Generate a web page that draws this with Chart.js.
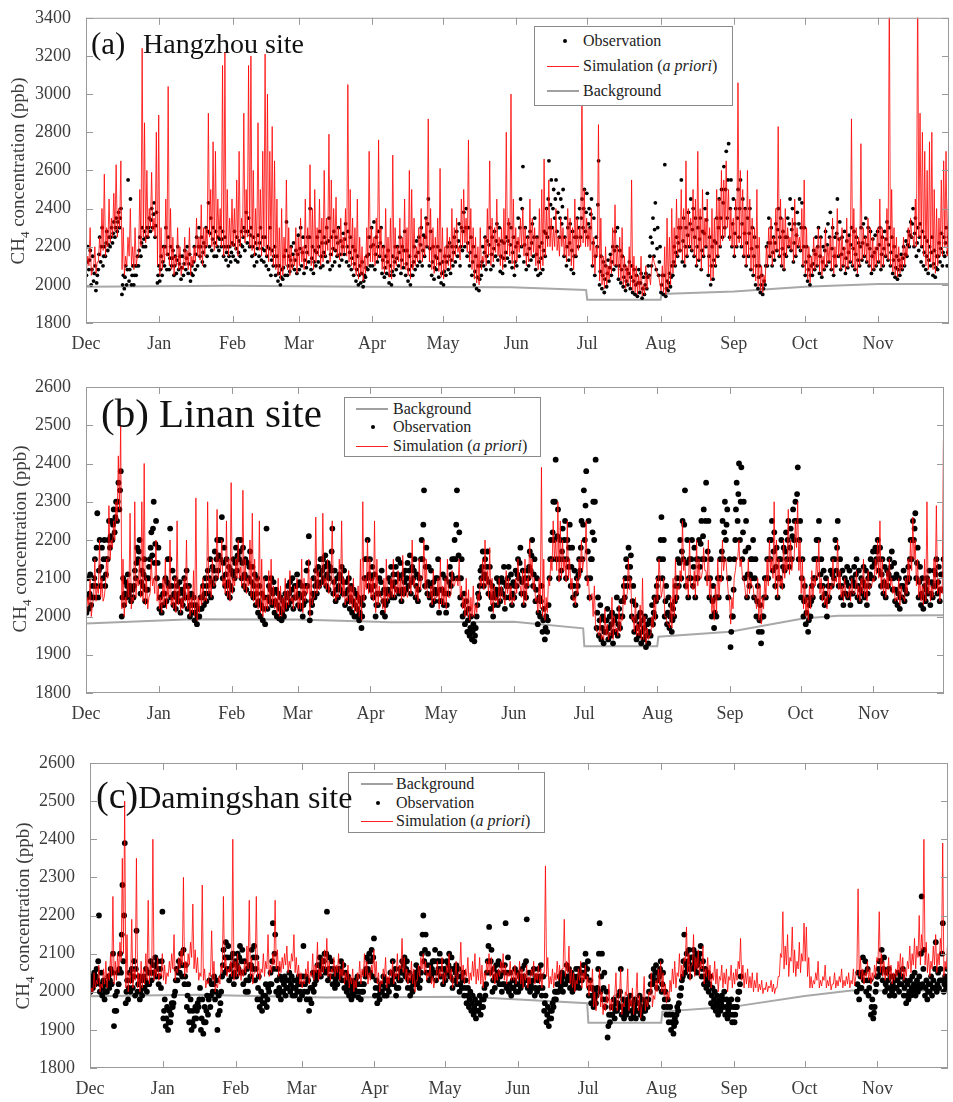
<!DOCTYPE html>
<html>
<head>
<meta charset="utf-8">
<script src="https://cdn.jsdelivr.net/npm/chart.js@4.4.1/dist/chart.umd.min.js"></script>
<style>
  body { margin: 0; background: #fff; width: 953px; height: 1102px; position: relative; overflow: hidden;
         font-family: 'Liberation Serif', 'Times New Roman', serif; }
  canvas { position: absolute; left: 0; }
  .ylab { position: absolute; transform: translate(-50%, -50%) rotate(-90deg); white-space: nowrap;
          font-size: 19px; color: #3c3c3c; }
  .ylab sub { font-size: 13px; }
  .tag { position: absolute; white-space: nowrap; color: #111; line-height: 1; z-index: 2; }
  .legend { position: absolute; border: 1px solid #8a8a8a; background: #fff; color: #222; z-index: 1; }
  .legend .row { position: absolute; left: 0; right: 0; height: 0; }
  .legend .txt { position: absolute; transform: translateY(-52%); white-space: nowrap; }
  .legend .ln { position: absolute; height: 0; }
  .legend .dot { position: absolute; width: 4px; height: 4px; border-radius: 50%; background: #000; transform: translate(-50%, -50%); }
</style>
</head>
<body>
<canvas id="chartHangzhou" width="953" height="365" style="top:0"></canvas>
<canvas id="chartLinan" width="953" height="385" style="top:350px"></canvas>
<canvas id="chartDamingshan" width="953" height="372" style="top:730px"></canvas>

<div class="ylab" style="left:20px;top:171px">CH<sub>4</sub> concentration (ppb)</div>
<div class="ylab" style="left:22px;top:539px">CH<sub>4</sub> concentration (ppb)</div>
<div class="ylab" style="left:25px;top:916px">CH<sub>4</sub> concentration (ppb)</div>

<div class="tag" style="left:91px;top:28px;font-size:31px">(a)</div>
<div class="tag" style="left:143px;top:30px;font-size:28px">Hangzhou site</div>
<div class="tag" style="left:101px;top:393px;font-size:41px">(b) Linan site</div>
<div class="tag" style="left:96px;top:776px;font-size:32px"><span style="font-size:38px">(c)</span>Damingshan site</div>

<div id="legHangzhou" class="legend" style="left:534px;top:26px;width:197px;height:78px;font-size:16px"></div>
<div id="legLinan" class="legend" style="left:344px;top:397px;width:195px;height:58px;font-size:16px"></div>
<div id="legDamingshan" class="legend" style="left:348px;top:772px;width:195px;height:59px;font-size:16px"></div>

<script>
// x axis: day index counted from 1 Dec
const monthStarts = [0, 31, 62, 90, 121, 151, 182, 212, 243, 274, 304, 335];
const monthLabels = ['Dec', 'Jan', 'Feb', 'Mar', 'Apr', 'May', 'Jun', 'Jul', 'Aug', 'Sep', 'Oct', 'Nov'];

// ---------- (a) Hangzhou ----------
// simulation: daily low and daily peak
const hzSimLow = [
  2080,2100,2050,2100,2060,2120,2150,2180,2150,2200,2220,2250,2280,2250,2300,2080,2050,2100,2150,2100,2080,2100,2150,2200,2250,2220,2250,2300,2280,2250,2100,
  2050,2080,2120,2150,2100,2080,2050,2100,2080,2050,2080,2100,2080,2050,2100,2120,2150,2130,2100,2150,2200,2250,2200,2180,2200,2250,2200,2150,2180,2150,2200,
  2200,2180,2150,2200,2250,2220,2250,2200,2180,2150,2200,2180,2150,2200,2150,2120,2150,2100,2080,2050,2030,2050,2100,2080,2050,2080,2100,2060,
  2100,2120,2080,2100,2150,2100,2080,2120,2150,2100,2120,2150,2180,2120,2150,2180,2150,2130,2150,2170,2150,2120,2100,2080,2050,2030,2050,2020,2060,2100,2120,
  2120,2100,2130,2150,2080,2060,2080,2040,2030,2080,2100,2120,2080,2100,2080,2050,2030,2080,2100,2120,2130,2120,2150,2200,2120,2080,2060,2100,2070,2040,
  2030,2080,2100,2080,2120,2150,2170,2130,2200,2220,2170,2120,2080,2030,2010,2000,2080,2120,2100,2150,2100,2120,2170,2150,2100,2080,2120,2160,2150,2110,2080,
  2120,2170,2200,2150,2100,2120,2150,2170,2100,2080,2080,2100,2150,2200,2200,2180,2200,2180,2150,2200,2150,2120,2150,2100,2080,2150,2180,2200,2220,2200,
  2200,2180,2100,2060,2150,2020,2000,1980,2000,2030,2060,2100,2100,2040,2020,2000,1980,2010,1990,1970,1960,1950,1970,1940,1950,1980,2050,2100,2120,2080,2050,
  1970,1960,1950,1980,2000,2060,2100,2150,2170,2130,2110,2150,2200,2180,2150,2100,2130,2080,2150,2200,2060,2020,2040,2100,2150,2200,2230,2250,2300,2230,2200,
  2150,2200,2220,2200,2150,2100,2150,2080,2060,2020,1990,1970,1960,2010,2100,2150,2100,2140,2180,2150,2100,2080,2150,2200,2180,2120,2150,2200,2180,2100,
  2060,2030,2010,2060,2080,2100,2070,2050,2080,2100,2120,2080,2060,2100,2150,2080,2100,2070,2090,2120,2100,2080,2060,2100,2130,2150,2120,2100,2070,2080,2100,
  2120,2090,2100,2150,2130,2100,2070,2050,2040,2060,2080,2100,2150,2200,2250,2200,2200,2250,2200,2150,2100,2080,2120,2080,2060,2100,2150,2150,2200,2150
];
const hzSimHigh = [
  2150,2300,2080,2200,2120,2250,2400,2580,2300,2450,2350,2480,2630,2400,2650,2300,2150,2250,2400,2200,2300,2150,2500,3240,2850,2600,2400,2590,2350,2800,2890,
  2300,2200,2450,3040,2400,2250,2150,2300,2200,2100,2250,2180,2300,2150,2200,2350,2250,2420,2300,2300,2900,2500,2750,2700,2450,2400,3150,3220,2500,2350,2450,
  2400,2550,2700,2350,2900,2500,3150,3200,2600,2400,2850,2500,2700,3210,3000,2700,2830,2650,2450,2300,2400,2250,2550,2300,2200,2150,2300,2250,
  2350,2200,2450,2300,2630,2400,2500,2300,2450,2350,2600,2350,2790,2550,2400,2460,2300,2350,2250,2400,3050,2500,2350,2300,2450,2250,2200,2150,2300,2700,2300,
  2250,2350,2760,2300,2200,2400,2250,2350,2680,2300,2200,2350,2250,2450,2300,2600,2500,2350,2200,2300,2400,2250,2350,2870,2400,2300,2250,2350,2610,2300,
  2200,2300,2250,2400,2300,2350,2200,2450,2500,2350,2760,2400,2300,2250,2200,2300,2150,2250,2400,2650,2350,2300,2450,2250,2300,2400,2800,2350,3000,2450,2300,
  2250,2350,2400,2300,2250,2450,2350,2300,2250,2400,2500,2660,2400,2550,2350,2300,2400,2250,2350,2300,2250,2400,2350,2300,2450,2350,2300,3060,2500,2350,
  2300,2400,2250,2200,2840,2350,2150,2200,2100,2150,2300,2420,2200,2250,2300,2150,2100,2200,2550,2150,2100,2050,2150,2000,2100,2050,2000,2150,2100,2050,2000,
  2100,2200,2350,2250,2400,2300,2450,2350,2500,2400,2650,2400,2350,2500,2450,2700,2400,2500,2350,2450,2300,2400,2350,2500,2450,2600,2550,2650,2500,2400,2350,
  2450,3060,2600,2500,2400,2600,2450,2350,2300,2500,2250,2100,2050,2200,2300,2350,2250,2400,2830,2450,2350,2400,2300,2250,2350,2450,2300,2250,2400,2550,
  2300,2200,2150,2250,2200,2300,2250,2150,2300,2200,2250,2350,2200,2400,2250,2300,2200,2350,2250,2870,2400,2300,2250,2740,2300,2250,2350,2300,2250,2200,2300,
  2450,2300,2250,2400,3600,2500,2300,2250,2200,2150,2250,2200,2300,2350,2250,2450,3600,2900,2800,2700,2600,2750,2800,2500,2400,2350,2550,2650,2700,2450
];
// observations: three samples per day (low, middle, high)
const hzObsLow = [
  2050,2080,2000,2020,1970,2080,2120,2100,2150,2180,2200,2220,2250,2280,2300,1950,1980,2000,2020,2000,2000,2050,2100,2150,2200,2200,2250,2280,2300,2250,2010,
  2020,2050,2100,2080,2080,2100,2050,2060,2080,2030,2050,2080,2060,2020,2050,2080,2100,2150,2120,2100,2150,2200,2180,2150,2150,2180,2200,2150,2130,2100,2120,
  2150,2130,2120,2150,2200,2180,2220,2200,2150,2100,2120,2150,2130,2120,2100,2080,2050,2100,2050,2020,2000,2030,2050,2050,2070,2100,2080,2060,
  2080,2100,2060,2090,2120,2080,2060,2100,2120,2090,2100,2150,2120,2080,2100,2120,2150,2100,2130,2160,2120,2100,2080,2050,2020,2000,2010,1990,2040,2080,2100,
  2100,2080,2120,2150,2060,2040,2060,2010,2000,2050,2080,2100,2060,2090,2050,2020,2000,2050,2080,2100,2120,2100,2150,2200,2100,2050,2030,2080,2040,2010,
  2000,2050,2080,2060,2100,2120,2150,2100,2180,2200,2150,2100,2050,2000,1980,1970,2050,2100,2080,2120,2080,2100,2150,2130,2070,2060,2100,2140,2120,2090,2050,
  2100,2150,2200,2120,2080,2100,2130,2150,2080,2050,2060,2080,2150,2250,2300,2300,2350,2280,2250,2320,2150,2100,2130,2080,2060,2150,2200,2250,2300,2280,
  2250,2300,2100,2050,2200,2000,1980,1960,1990,2020,2050,2080,2100,2030,2010,1990,1970,2000,1980,1960,1950,1940,1960,1930,1950,1980,2050,2100,2150,2080,2050,
  1960,1950,1940,1970,1990,2050,2100,2150,2180,2120,2100,2150,2200,2180,2150,2100,2130,2080,2150,2200,2050,2000,2030,2100,2150,2200,2250,2300,2350,2250,2200,
  2150,2200,2250,2200,2150,2100,2150,2080,2050,2000,1980,1960,1950,2000,2100,2150,2100,2130,2180,2150,2100,2080,2150,2200,2180,2120,2150,2200,2180,2100,
  2050,2020,2000,2050,2080,2100,2060,2040,2080,2100,2120,2080,2050,2100,2150,2080,2100,2060,2090,2120,2100,2080,2050,2100,2130,2150,2120,2100,2060,2080,2100,
  2120,2080,2100,2150,2130,2100,2060,2040,2030,2050,2080,2100,2150,2200,2250,2200,2150,2180,2120,2100,2080,2060,2100,2050,2040,2080,2120,2100,2150,2100
];
const hzObsMid = [
  2120,2130,2080,2060,2010,2160,2200,2150,2220,2210,2250,2270,2300,2330,2350,2000,2040,2080,2080,2050,2050,2100,2180,2220,2240,2250,2300,2340,2370,2310,2050,
  2080,2120,2200,2160,2140,2140,2100,2130,2110,2090,2110,2140,2110,2060,2120,2160,2200,2200,2170,2200,2280,2270,2240,2220,2200,2240,2240,2200,2170,2150,2170,
  2210,2190,2170,2210,2250,2280,2280,2260,2200,2160,2190,2220,2190,2180,2150,2190,2130,2150,2100,2060,2040,2090,2180,2100,2130,2160,2130,2160,
  2190,2170,2130,2170,2250,2140,2120,2170,2200,2150,2170,2220,2230,2160,2190,2180,2220,2160,2200,2240,2200,2170,2140,2110,2080,2050,2060,2020,2090,2160,2200,
  2210,2160,2200,2220,2130,2090,2120,2050,2070,2120,2140,2170,2130,2180,2110,2080,2050,2120,2150,2170,2210,2180,2250,2320,2190,2120,2090,2140,2110,2060,
  2070,2120,2150,2130,2170,2200,2230,2200,2280,2300,2220,2170,2120,2070,2040,2030,2120,2170,2150,2210,2160,2190,2230,2210,2150,2140,2170,2230,2210,2170,2120,
  2220,2300,2400,2210,2160,2190,2220,2250,2160,2120,2140,2180,2270,2450,2420,2400,2450,2380,2350,2410,2250,2200,2220,2180,2150,2250,2300,2350,2400,2380,
  2320,2370,2220,2150,2420,2070,2050,2030,2060,2090,2120,2180,2200,2100,2080,2040,2020,2060,2040,2020,2000,2010,2010,1980,2000,2040,2150,2220,2290,2190,2120,
  2000,2050,1980,2010,2040,2120,2170,2220,2300,2230,2200,2260,2320,2290,2250,2200,2240,2180,2270,2340,2150,2100,2130,2220,2300,2350,2430,2500,2550,2400,2320,
  2270,2350,2400,2320,2270,2220,2270,2190,2150,2100,2040,2000,1980,2100,2220,2220,2170,2220,2290,2250,2190,2160,2250,2320,2290,2220,2260,2320,2300,2200,
  2120,2080,2050,2110,2160,2200,2150,2120,2180,2210,2250,2190,2150,2270,2240,2160,2190,2140,2170,2210,2190,2160,2130,2200,2220,2250,2210,2190,2150,2170,2190,
  2210,2160,2190,2240,2210,2170,2130,2090,2080,2100,2140,2160,2210,2260,2320,2270,2220,2250,2200,2170,2150,2130,2170,2110,2090,2150,2190,2170,2220,2170
];
const hzObsHigh = [
  2200,2180,2150,2100,2050,2250,2300,2200,2280,2250,2300,2330,2350,2380,2400,2050,2100,2550,2450,2100,2100,2150,2250,2300,2280,2300,2350,2400,2430,2380,2100,
  2150,2200,2300,2250,2200,2180,2150,2200,2150,2150,2180,2200,2160,2100,2200,2250,2300,2250,2220,2300,2430,2350,2300,2280,2250,2300,2280,2250,2200,2200,2220,
  2280,2250,2230,2280,2300,2380,2350,2300,2250,2220,2260,2300,2250,2250,2200,2300,2180,2200,2150,2100,2080,2150,2330,2150,2200,2220,2180,2260,
  2300,2250,2200,2250,2400,2200,2180,2250,2280,2220,2250,2300,2350,2250,2280,2250,2300,2230,2270,2320,2280,2250,2200,2180,2150,2100,2120,2050,2150,2250,2300,
  2330,2250,2280,2300,2200,2150,2180,2100,2150,2200,2200,2250,2200,2280,2180,2150,2100,2200,2230,2250,2300,2260,2350,2450,2280,2200,2150,2200,2180,2120,
  2150,2200,2220,2200,2250,2280,2320,2300,2380,2400,2300,2250,2200,2150,2100,2100,2200,2250,2230,2300,2250,2280,2320,2300,2230,2220,2250,2320,2300,2250,2200,
  2350,2450,2620,2300,2250,2280,2320,2350,2250,2200,2220,2280,2400,2650,2550,2500,2550,2480,2450,2500,2350,2300,2320,2280,2250,2350,2400,2450,2500,2480,
  2400,2450,2350,2250,2650,2150,2120,2100,2130,2160,2200,2280,2300,2180,2150,2100,2080,2120,2100,2080,2050,2080,2060,2040,2060,2100,2250,2350,2430,2300,2200,
  2050,2630,2020,2060,2100,2200,2250,2300,2550,2350,2300,2380,2450,2400,2350,2300,2350,2280,2400,2480,2250,2200,2230,2350,2450,2500,2620,2700,2740,2550,2450,
  2400,2500,2550,2450,2400,2350,2400,2300,2250,2200,2100,2050,2020,2200,2350,2300,2250,2320,2400,2350,2280,2250,2350,2450,2400,2320,2380,2450,2430,2300,
  2200,2150,2100,2180,2250,2300,2250,2200,2280,2320,2380,2300,2250,2450,2330,2250,2280,2230,2260,2300,2280,2250,2220,2300,2320,2350,2300,2280,2240,2260,2280,
  2300,2250,2280,2330,2300,2250,2200,2150,2130,2160,2200,2230,2280,2330,2400,2350,2300,2320,2280,2250,2230,2200,2250,2180,2150,2220,2270,2250,2300,2250
];
const hzBgDays = [0, 60, 120, 180, 211.5, 212, 243, 243.5, 274, 304, 335, 365];
const hzBg = [1990, 1995, 1990, 1987, 1973, 1922, 1922, 1952, 1965, 1990, 2004, 2004];
const hzTicks = [1800, 2000, 2200, 2400, 2600, 2800, 3000, 3200, 3400];

// ---------- (b) Linan ----------
const laSimLow = [
  2010,2030,2000,2050,2040,2060,2050,2040,2080,2100,2150,2180,2200,2250,2280,2020,2000,2030,2050,2020,2040,2050,2080,2050,2040,2030,2020,2060,2080,2060,2040,
  2020,2010,2030,2020,2050,2030,2020,2010,2030,2010,2020,2040,2020,2000,2010,2000,1990,2010,2030,2040,2040,2060,2050,2080,2090,2100,2120,2080,2060,2050,2040,
  2060,2080,2100,2100,2080,2070,2060,2080,2050,2040,2030,2020,2010,2000,2010,2020,2030,2030,2020,2010,2000,2000,2010,2020,2030,2040,2020,2040,
  2020,2020,2010,2040,2060,2000,2030,2050,2060,2070,2080,2080,2070,2060,2090,2050,2040,2050,2060,2050,2030,2040,2030,2020,2010,2010,2000,1990,2040,2070,2060,
  2050,2040,2010,2030,2050,2020,2010,2040,2050,2050,2050,2060,2060,2040,2050,2060,2070,2060,2080,2050,2040,2070,2100,2070,2050,2050,2030,2040,2050,2020,
  2030,2030,2020,2050,2060,2080,2100,2080,2050,2020,2000,2000,1990,2000,2000,2010,2040,2080,2070,2080,2050,2030,2010,2040,2030,2040,2050,2030,2060,2040,2030,
  2040,2060,2080,2050,2030,2040,2080,2100,2070,2040,2010,2020,2000,1990,2010,2080,2120,2150,2120,2090,2100,2120,2090,2100,2070,2040,2030,2060,2100,2120,
  2150,2080,2040,2060,2080,1960,1950,1940,1940,1950,1940,1950,1940,1960,1950,1960,1990,2030,2060,2070,1990,1960,1950,1950,1940,1940,1930,1940,1950,1970,1990,
  2040,2100,2070,2000,1980,1970,1970,2000,2040,2070,2090,2120,2070,2050,2080,2070,2050,2080,2100,2120,2120,2080,2050,2010,1990,2010,2050,2090,2120,2150,2060,
  1980,2020,2120,2150,2130,2100,2080,2050,2060,2080,2050,2020,1990,1980,2020,2050,2080,2120,2100,2070,2050,2080,2070,2100,2120,2110,2120,2150,2180,2120,
  2060,2020,2000,1990,2020,2050,2080,2100,2060,2040,2030,2020,2050,2070,2080,2090,2070,2050,2040,2060,2050,2040,2060,2070,2050,2040,2060,2050,2040,2070,2080,
  2090,2110,2100,2070,2060,2050,2070,2080,2060,2040,2040,2030,2050,2040,2060,2090,2120,2150,2080,2050,2040,2030,2040,2060,2040,2050,2070,2060,2040,2060
];
const laSimHigh = [
  2050,2100,2030,2150,2080,2200,2100,2050,2150,2290,2200,2250,2300,2420,2500,2150,2050,2100,2270,2050,2300,2100,2150,2300,2400,2100,2050,2150,2100,2200,2080,
  2050,2100,2150,2080,2200,2050,2100,2250,2080,2050,2100,2200,2080,2050,2120,2310,2050,2080,2100,2050,2300,2100,2150,2080,2280,2150,2200,2100,2250,2150,2350,
  2100,2150,2200,2130,2330,2150,2100,2200,2270,2150,2100,2250,2150,2100,2050,2120,2150,2080,2050,2100,2080,2050,2100,2070,2120,2050,2080,2100,
  2050,2150,2100,2080,2150,2100,2050,2260,2120,2080,2270,2100,2150,2080,2250,2100,2060,2150,2250,2100,2050,2120,2080,2100,2050,2080,2150,2300,2100,2200,2150,
  2100,2250,2150,2080,2050,2100,2150,2060,2100,2150,2080,2120,2100,2160,2080,2050,2110,2200,2100,2080,2150,2100,2200,2150,2050,2080,2120,2050,2100,2150,
  2080,2100,2150,2050,2120,2080,2100,2150,2080,2050,2100,2070,2050,2080,2030,2060,2100,2150,2200,2120,2180,2100,2080,2050,2100,2080,2050,2120,2100,2080,2050,
  2100,2150,2080,2120,2150,2100,2200,2150,2100,2050,2100,2390,2150,2050,2100,2150,2250,2200,2300,2250,2200,2150,2250,2150,2100,2050,2100,2150,2200,2150,
  2250,2100,2050,2000,1980,1960,2000,1950,2020,1980,1960,2050,2000,1970,2030,2000,2100,2050,2150,2100,2000,2050,1980,2030,2100,2000,1970,1950,2000,2050,2100,
  2150,2050,2100,2000,1980,2050,2100,2150,2080,2120,2250,2150,2100,2200,2080,2120,2200,2150,2100,2180,2120,2200,2100,2050,2080,2150,2100,2200,2150,2100,2050,
  2050,2100,2150,2200,2150,2100,2050,2150,2100,2080,2050,2100,2080,2050,2100,2150,2200,2150,2300,2200,2150,2100,2200,2150,2280,2200,2150,2250,2300,2200,
  2150,2100,2050,2080,2120,2100,2150,2200,2100,2080,2050,2100,2080,2150,2100,2200,2120,2080,2100,2050,2080,2100,2060,2120,2080,2100,2150,2100,2120,2080,2100,
  2150,2200,2250,2150,2100,2120,2150,2100,2080,2050,2100,2080,2050,2100,2150,2200,2260,2200,2150,2100,2080,2150,2300,2100,2080,2150,2290,2100,2080,2460
];
const laObsLow = [
  2010,2020,2030,2050,2080,2050,2080,2100,2080,2150,2180,2200,2220,2250,2280,2000,2030,2050,2060,2040,2050,2100,2150,2060,2080,2040,2070,2150,2160,2140,2100,
  2020,2010,2030,2040,2080,2050,2030,2020,2040,2010,2030,2050,2020,2000,2010,1990,1980,2000,2020,2030,2040,2060,2050,2080,2100,2120,2150,2100,2080,2060,2050,
  2070,2100,2120,2150,2100,2080,2070,2100,2060,2050,2030,2010,2000,1990,1980,2020,2040,2030,2010,2000,1995,1990,2000,2020,2030,2040,2020,2050,
  2030,2020,2000,2040,2080,1990,2030,2050,2060,2080,2090,2100,2080,2070,2120,2060,2040,2050,2070,2060,2030,2040,2020,2010,2000,2000,1990,1970,2050,2100,2080,
  2070,2050,2000,2030,2060,2010,2000,2040,2060,2050,2050,2070,2060,2040,2060,2070,2080,2060,2100,2050,2040,2100,2150,2080,2060,2050,2030,2040,2060,2010,
  2040,2030,2010,2060,2080,2100,2150,2100,2050,2000,1980,1960,1950,1940,1935,2000,2050,2100,2080,2100,2060,2020,2000,2050,2030,2040,2060,2020,2080,2050,2030,
  2050,2080,2100,2060,2030,2050,2100,2120,2080,2040,1980,2000,1960,1940,1960,2100,2150,2200,2150,2100,2120,2150,2100,2130,2080,2050,2030,2080,2120,2150,
  2200,2100,2050,2150,2200,1970,1950,1940,1930,1960,1940,1950,1930,1960,1950,1970,2000,2050,2080,2100,2000,1960,1940,1950,1930,1940,1920,1930,1950,1980,2000,
  2050,2150,2100,2000,1980,1970,1960,2000,2050,2080,2100,2150,2080,2050,2100,2080,2050,2100,2130,2150,2150,2100,2050,2000,1970,2000,2050,2100,2150,2200,2050,
  1920,2000,2200,2250,2200,2150,2100,2050,2080,2100,2050,2000,1960,1930,2000,2050,2100,2150,2120,2080,2050,2100,2080,2120,2150,2130,2150,2200,2250,2150,
  2050,2000,1980,1960,2000,2050,2100,2150,2080,2050,2030,2000,2050,2080,2100,2120,2080,2050,2030,2060,2050,2030,2060,2080,2050,2040,2060,2050,2030,2080,2100,
  2100,2150,2120,2080,2060,2050,2080,2100,2070,2040,2030,2020,2050,2040,2060,2100,2150,2200,2100,2050,2030,2020,2040,2060,2030,2050,2080,2060,2040,2070
];
const laObsMid = [
  2050,2060,2050,2100,2180,2120,2130,2150,2110,2200,2210,2240,2260,2300,2330,2050,2060,2080,2070,2050,2080,2140,2170,2090,2110,2070,2100,2180,2230,2190,2140,
  2050,2030,2060,2090,2150,2080,2060,2050,2060,2040,2060,2080,2050,2030,2030,2010,2000,2020,2050,2060,2080,2100,2090,2120,2150,2160,2200,2140,2110,2090,2080,
  2110,2140,2160,2170,2140,2110,2100,2130,2090,2080,2060,2040,2030,2020,2100,2050,2070,2060,2040,2030,2020,2010,2030,2050,2060,2070,2050,2080,
  2060,2050,2030,2080,2140,2010,2060,2080,2090,2110,2120,2130,2110,2100,2170,2090,2070,2080,2100,2090,2060,2070,2050,2040,2030,2020,2010,2000,2100,2150,2110,
  2100,2080,2030,2060,2090,2040,2030,2070,2090,2080,2090,2110,2100,2070,2090,2100,2120,2090,2120,2080,2070,2150,2240,2130,2090,2080,2060,2070,2100,2040,
  2070,2060,2030,2090,2110,2150,2240,2160,2100,2030,2010,1990,1970,1960,1950,2030,2080,2130,2110,2130,2090,2050,2030,2070,2060,2070,2090,2050,2100,2080,2060,
  2080,2110,2140,2090,2060,2080,2130,2160,2110,2070,2010,2040,1990,1970,1990,2150,2220,2300,2210,2150,2170,2200,2150,2180,2130,2080,2060,2110,2180,2240,
  2290,2170,2100,2220,2300,2010,1990,1970,1960,1990,1970,1980,1960,2000,1980,2000,2040,2100,2130,2130,2040,1990,1970,1980,1960,1970,1950,1960,1990,2010,2040,
  2100,2200,2150,2040,2010,2000,1990,2040,2100,2140,2170,2240,2140,2100,2150,2130,2100,2150,2190,2210,2250,2170,2100,2040,2010,2050,2100,2170,2220,2240,2100,
  1960,2070,2280,2320,2300,2220,2170,2110,2110,2150,2100,2040,1990,1960,2050,2100,2150,2200,2170,2130,2100,2150,2130,2170,2200,2180,2210,2250,2320,2200,
  2100,2040,2010,1990,2040,2100,2150,2200,2110,2080,2060,2040,2080,2110,2150,2180,2110,2080,2060,2090,2080,2060,2090,2110,2080,2070,2090,2080,2060,2110,2130,
  2140,2170,2150,2110,2090,2080,2110,2130,2100,2070,2060,2050,2080,2070,2090,2150,2200,2230,2140,2090,2060,2050,2070,2090,2060,2080,2110,2090,2070,2110
];
const laObsHigh = [
  2100,2110,2080,2150,2270,2200,2180,2200,2150,2250,2250,2280,2300,2350,2380,2100,2090,2110,2080,2070,2120,2180,2200,2120,2150,2100,2130,2220,2300,2250,2180,
  2080,2060,2100,2150,2230,2120,2100,2080,2090,2070,2100,2120,2080,2060,2050,2030,2020,2050,2080,2100,2120,2150,2130,2170,2200,2200,2260,2180,2150,2130,2120,
  2150,2180,2200,2200,2180,2150,2140,2170,2130,2110,2100,2080,2060,2050,2230,2080,2100,2090,2070,2060,2050,2040,2060,2080,2090,2100,2080,2110,
  2090,2080,2060,2120,2210,2040,2100,2120,2130,2150,2150,2160,2140,2130,2230,2120,2100,2110,2130,2120,2090,2100,2080,2070,2060,2050,2040,2030,2150,2200,2150,
  2130,2110,2060,2100,2120,2070,2060,2100,2130,2110,2130,2150,2140,2110,2120,2140,2160,2130,2150,2110,2100,2200,2330,2180,2130,2120,2090,2100,2150,2070,
  2110,2100,2060,2130,2150,2200,2330,2220,2150,2060,2040,2020,2000,1980,1970,2060,2120,2170,2150,2170,2130,2080,2060,2100,2090,2100,2130,2080,2130,2110,2090,
  2120,2150,2180,2120,2100,2120,2170,2200,2150,2100,2050,2080,2020,2000,2030,2200,2300,2410,2280,2200,2230,2250,2200,2240,2180,2120,2100,2150,2250,2330,
  2380,2250,2150,2300,2410,2050,2030,2000,1990,2020,2000,2010,1990,2050,2020,2040,2080,2150,2180,2160,2080,2030,2000,2010,1990,2000,1980,1990,2030,2050,2080,
  2150,2260,2200,2080,2050,2030,2020,2080,2150,2200,2250,2330,2200,2150,2200,2180,2150,2200,2250,2280,2350,2250,2150,2080,2050,2100,2150,2250,2300,2280,2150,
  2000,2150,2350,2400,2390,2300,2250,2180,2150,2200,2150,2080,2030,2000,2100,2150,2200,2250,2220,2180,2150,2200,2180,2220,2250,2230,2280,2300,2390,2250,
  2150,2080,2050,2030,2080,2150,2200,2250,2150,2120,2100,2080,2120,2150,2200,2250,2150,2120,2100,2130,2120,2100,2130,2150,2120,2100,2130,2120,2100,2150,2170,
  2180,2200,2180,2150,2130,2120,2150,2170,2140,2110,2100,2080,2120,2100,2130,2200,2250,2270,2180,2130,2100,2080,2100,2120,2090,2120,2150,2130,2110,2150
];
const laBgDays = [0, 45, 90, 130, 182, 211.5, 212, 243, 243.5, 274, 305, 320, 365];
const laBg = [1982, 1993, 1992, 1985, 1986, 1969, 1922, 1922, 1947, 1960, 1995, 2002, 2003];

// ---------- (c) Damingshan ----------
const dmSimLow = [
  1990,2000,2010,2020,2000,2010,2020,2010,2030,2040,2020,2030,2050,2080,2100,2010,2000,2020,2010,2030,2010,2000,2010,2020,2030,2020,2040,2030,2040,2030,2040,
  2030,2020,2040,2050,2060,2030,2050,2060,2070,2040,2050,2070,2090,2060,2050,2030,2040,2030,2010,2020,2040,2030,2000,2010,2020,2050,2060,2040,2050,2040,2030,
  2040,2040,2030,2040,2050,2060,2040,2020,2050,2040,2030,2050,2040,2060,2040,2050,2070,2060,2040,2050,2060,2070,2050,2060,2080,2050,2040,2020,
  2010,2020,2040,2020,2040,2030,2050,2030,2040,2050,2060,2040,2030,2050,2040,2050,2030,2040,2020,2030,2010,2020,2000,2010,2030,2020,2040,2040,2020,2030,2050,
  2040,2020,2000,2020,2040,2010,2020,2040,2020,2040,2030,2060,2050,2030,2020,2030,2020,2000,2030,2040,2060,2050,2030,2040,2020,2010,2040,2030,2040,2020,
  2030,2050,2030,2010,2040,2020,2050,2030,2020,2040,2020,2030,2040,2020,2030,2020,2010,2030,2050,2040,2030,2020,2030,2040,2050,2030,2020,2040,2030,2030,2020,
  2030,2020,2010,2030,2010,2020,2040,2020,2030,2020,2010,2050,2040,2010,2020,2010,2030,2030,2020,2060,2040,2050,2020,2010,2000,2020,2030,2010,2030,2010,
  1990,2000,1960,1950,1990,1960,1940,1950,1970,1950,1950,1990,1950,1990,1940,1960,1990,1950,1960,1940,1990,1950,1930,1980,1950,1960,1990,1960,1980,2000,2020,
  2000,1990,1970,1980,2000,2020,2010,2040,2030,2040,2080,2050,2030,2070,2040,2060,2040,2060,2020,2040,2030,2010,2030,2020,2000,2030,2010,2020,2000,2030,2010,
  2020,2030,2060,2030,2010,2020,2010,2010,2000,2010,2000,2005,1995,2005,2000,2010,2000,1995,2010,2040,2090,2060,2070,2040,2080,2050,2040,2060,2050,2080,
  2080,2040,2010,2010,2020,2030,2010,2015,2030,2010,2015,2005,2020,2010,2015,2025,2010,2015,2020,2010,2020,2015,2060,2040,2030,2020,2040,2030,2020,2030,2040,
  2080,2050,2040,2030,2040,2030,2020,2030,2040,2050,2040,2030,2040,2060,2050,2070,2060,2090,2070,2110,2070,2050,2040,2060,2070,2050,2070,2100,2040,2060
];
const dmSimHigh = [
  2010,2050,2030,2070,2020,2060,2080,2050,2100,2250,2080,2100,2130,2350,2500,2150,2050,2190,2060,2350,2050,2080,2060,2100,2240,2070,2400,2060,2090,2050,2100,
  2070,2050,2080,2100,2150,2060,2090,2110,2300,2080,2100,2130,2230,2110,2090,2050,2280,2060,2030,2050,2160,2080,2020,2040,2070,2250,2090,2060,2080,2400,2080,
  2100,2070,2060,2080,2120,2240,2090,2050,2250,2080,2060,2100,2080,2150,2070,2100,2240,2110,2080,2090,2100,2120,2080,2100,2150,2090,2070,2050,
  2030,2060,2080,2050,2100,2070,2130,2060,2090,2110,2140,2080,2060,2090,2070,2100,2060,2080,2050,2070,2040,2060,2030,2050,2080,2060,2100,2080,2050,2070,2110,
  2080,2050,2030,2060,2090,2040,2060,2080,2050,2100,2070,2140,2090,2060,2050,2080,2060,2030,2070,2090,2100,2080,2050,2070,2040,2030,2080,2060,2090,2050,
  2070,2100,2060,2040,2080,2050,2130,2070,2060,2090,2050,2080,2100,2060,2090,2070,2050,2080,2100,2090,2070,2050,2060,2080,2100,2070,2050,2080,2060,2070,2050,
  2080,2060,2050,2070,2040,2060,2080,2050,2070,2060,2050,2330,2090,2040,2060,2050,2080,2070,2060,2190,2080,2120,2060,2050,2030,2060,2080,2050,2070,2040,
  2030,2060,2000,1980,2060,2000,1970,1990,2020,1980,1990,2050,1980,2060,1970,2000,2060,1980,2010,1970,2050,1990,1960,2040,1980,2000,2050,1990,2030,2060,2080,
  2050,2020,2000,2030,2060,2080,2050,2100,2070,2090,2170,2100,2070,2150,2090,2110,2080,2120,2060,2090,2070,2050,2080,2060,2040,2070,2050,2060,2040,2070,2050,
  2060,2080,2140,2070,2050,2060,2040,2050,2030,2050,2020,2030,2010,2025,2015,2030,2020,2010,2040,2100,2210,2120,2150,2090,2170,2110,2080,2130,2100,2180,
  2170,2090,2040,2030,2050,2080,2030,2040,2070,2030,2040,2020,2050,2030,2040,2060,2030,2040,2050,2030,2060,2040,2270,2090,2060,2050,2080,2060,2050,2070,2090,
  2210,2100,2080,2060,2090,2070,2050,2060,2080,2100,2090,2060,2080,2120,2100,2140,2120,2200,2150,2400,2130,2100,2080,2120,2150,2100,2140,2390,2080,2120
];
const dmObsLow = [
  2000,2010,2020,2030,2000,1990,1980,2000,2010,2020,1910,1950,2020,2050,2080,1970,1980,2000,2010,1990,2000,1980,1990,2010,2000,2020,2030,2050,2040,2020,2010,
  1930,1910,1900,1920,1960,2000,2030,2050,2040,2020,1960,1920,1900,1910,1930,1960,1900,1890,1920,1940,1960,2000,1980,1900,1950,2040,2050,2060,2030,2040,2020,
  2040,2060,2050,2020,2000,2000,2040,2060,2030,1980,1960,1950,1970,1960,2000,2020,2060,2000,1990,1980,2000,1990,2010,2000,1990,1990,2000,1980,
  1990,2000,1980,1950,1970,2000,2030,2050,2040,2060,2050,2030,2040,2020,2010,2020,2040,2030,2010,2000,1990,1980,1990,2000,1985,1980,2000,2040,2060,2050,2040,
  1990,1970,1980,2000,1990,1990,2000,2030,2020,1990,2010,2030,2050,2040,2010,1990,2000,2030,2020,2010,2100,2080,2050,2030,2040,2050,2030,2060,2040,2020,
  2030,2050,2040,2010,2030,2020,2000,2010,1990,1970,1960,1950,1940,1930,1950,1940,1960,1990,2080,2050,2000,2010,2030,2020,2000,2020,2010,2000,1990,2010,2000,
  2000,2010,2020,2030,2010,2000,2010,1990,2000,2010,1990,1950,1920,1910,1930,1960,1980,2000,2010,2000,2020,2030,2010,2000,2010,2020,2010,2030,2050,2040,
  1990,1970,1960,1970,2060,2000,1980,1960,1880,1920,1940,1930,1950,1960,1940,1930,1940,1950,1930,1940,1930,1950,1940,1930,1950,1960,2000,2020,2030,2010,2040,
  2000,1960,1940,1920,1900,1890,1920,1950,1990,2040,2050,2060,2040,2070,2060,2050,2080,2040,2020,2010,2000,1970,1960,1950,1940,1950,1960,1940,1930,1940,1920,
  1920,1960,2000,null,null,null,null,null,null,null,null,null,null,null,null,null,null,null,null,null,null,null,null,null,null,null,null,null,null,null,
  null,null,null,null,null,null,null,null,null,null,null,null,null,null,null,null,null,null,null,null,null,null,2000,1980,2010,2030,2000,1990,1940,1930,2000,
  2040,2050,2030,2000,2010,1990,2000,1990,2010,2000,2020,1990,1970,1980,1990,2000,1990,2000,2010,2020,1990,1980,2000,1990,2010,2000,2010,2030,2000,2010
];
const dmObsMid = [
  2020,2030,2040,2080,2020,2010,2000,2020,2030,2050,1950,2000,2060,2150,2200,2000,2010,2030,2040,2060,2020,2000,2010,2030,2020,2050,2050,2070,2060,2040,2080,
  1950,1930,1920,1940,1970,2030,2050,2070,2070,2040,1990,1950,1920,1930,1950,1980,1930,1920,1950,1980,1990,2020,2000,1940,1970,2070,2090,2090,2060,2070,2050,
  2070,2090,2080,2050,2030,2030,2070,2090,2060,2010,1980,1970,1990,1980,2020,2080,2100,2030,2010,2000,2020,2010,2030,2020,2010,2010,2020,2000,
  2040,2020,2000,1980,2010,2020,2050,2070,2060,2080,2100,2060,2060,2040,2030,2040,2060,2050,2030,2020,2010,2000,2010,2020,2000,2000,2020,2060,2080,2080,2090,
  2010,1990,2000,2020,2010,2010,2020,2050,2040,2010,2030,2050,2070,2060,2030,2010,2020,2050,2040,2030,2150,2110,2070,2050,2060,2080,2050,2080,2060,2040,
  2050,2070,2060,2030,2050,2040,2020,2030,2010,1990,1980,1970,1960,1950,1970,1960,1980,2020,2120,2080,2030,2040,2050,2040,2020,2070,2050,2020,2010,2030,2020,
  2020,2030,2040,2080,2030,2020,2030,2010,2030,2040,2010,1970,1940,1930,1950,1980,2000,2020,2030,2020,2040,2040,2030,2020,2030,2040,2030,2050,2070,2060,
  2010,1990,1980,1990,2100,2040,2010,1980,1910,1940,1960,1950,1970,2000,1960,1950,1960,1970,1950,1960,1950,1970,1960,1950,1970,1980,2020,2040,2050,2030,2060,
  2020,1980,1960,1940,1920,1910,1940,1970,2010,2080,2070,2080,2060,2090,2080,2070,2100,2060,2040,2030,2020,1990,1980,1970,1960,1970,1980,1960,1950,1960,1940,
  1940,1980,2020,null,null,null,null,null,null,null,null,null,null,null,null,null,null,null,null,null,null,null,null,null,null,null,null,null,null,null,
  null,null,null,null,null,null,null,null,null,null,null,null,null,null,null,null,null,null,null,null,null,null,2020,2010,2050,2050,2030,2010,1960,1945,2020,
  2060,2080,2060,2020,2030,2010,2020,2010,2030,2020,2040,2010,1990,2000,2010,2020,2010,2020,2100,2060,2010,2000,2020,2010,2060,2020,2030,2100,2020,2030
];
const dmObsHigh = [
  2040,2050,2060,2200,2050,2030,2020,2040,2060,2100,1990,2050,2100,2280,2390,2030,2050,2060,2080,2160,2040,2030,2040,2060,2050,2080,2070,2090,2080,2060,2210,
  1980,1960,1950,1970,1990,2060,2080,2100,2110,2070,2020,1980,1950,1960,1970,2010,1980,1960,1990,2030,2020,2040,2030,1990,2000,2110,2130,2120,2090,2100,2080,
  2100,2120,2110,2080,2060,2070,2110,2120,2090,2040,2000,1990,2020,2010,2050,2180,2150,2060,2040,2030,2040,2030,2050,2040,2030,2030,2040,2020,
  2120,2040,2030,2010,2050,2040,2070,2090,2080,2100,2210,2090,2080,2060,2050,2060,2080,2070,2050,2040,2030,2020,2030,2040,2020,2020,2050,2090,2100,2110,2140,
  2030,2010,2020,2040,2030,2030,2050,2080,2060,2040,2060,2080,2090,2080,2050,2030,2040,2070,2060,2050,2200,2150,2100,2070,2080,2110,2080,2100,2080,2060,
  2080,2100,2090,2060,2070,2060,2040,2050,2030,2010,2000,1990,1980,1970,1990,1980,2010,2050,2170,2110,2060,2070,2080,2070,2050,2180,2090,2050,2030,2060,2050,
  2040,2060,2070,2190,2050,2050,2060,2040,2060,2070,2040,1990,1960,1950,1970,2000,2020,2040,2050,2040,2070,2060,2050,2040,2060,2060,2050,2070,2100,2080,
  2030,2010,2000,2010,2180,2100,2050,2000,1940,1960,1980,1970,1990,2060,1980,1970,1980,1990,1970,1980,1970,1990,1980,1960,1980,2000,2040,2060,2070,2050,2080,
  2050,2000,1980,1960,1940,1930,1960,1990,2030,2150,2100,2110,2090,2110,2100,2090,2120,2080,2060,2050,2040,2010,2000,1990,1980,1990,2000,1980,1970,1980,1960,
  1960,2000,2040,null,null,null,null,null,null,null,null,null,null,null,null,null,null,null,null,null,null,null,null,null,null,null,null,null,null,null,
  null,null,null,null,null,null,null,null,null,null,null,null,null,null,null,null,null,null,null,null,null,null,2050,2040,2090,2080,2060,2030,1980,1960,2040,
  2080,2110,2090,2050,2060,2040,2040,2030,2050,2040,2060,2030,2020,2030,2040,2050,2030,2040,2250,2110,2030,2020,2040,2030,2130,2050,2060,2180,2040,2060
];
const dmBgDays = [0, 45, 100, 161, 211.5, 212, 243, 243.5, 274, 304, 324, 365];
const dmBg = [1988, 1992, 1985, 1987, 1970, 1919, 1919, 1948, 1961, 1989, 2003, 2003];
const smallTicks = [1800, 1900, 2000, 2100, 2200, 2300, 2400, 2500, 2600];

Chart.defaults.font.family = "'Liberation Serif', 'Times New Roman', serif";

// MATLAB-like box with inward tick marks on all four sides
const boxTicks = {
  id: 'boxTicks',
  afterDatasetsDraw(chart) {
    const { ctx, chartArea: a, scales: { x, y } } = chart;
    ctx.save();
    ctx.strokeStyle = '#9a9a9a';
    ctx.lineWidth = 1;
    ctx.strokeRect(a.left + 0.5, a.top + 0.5, a.width - 1, a.height - 1);
    ctx.beginPath();
    monthStarts.forEach(d => {
      const px = Math.round(x.getPixelForValue(d)) + 0.5;
      ctx.moveTo(px, a.bottom); ctx.lineTo(px, a.bottom - 7);
      ctx.moveTo(px, a.top); ctx.lineTo(px, a.top + 7);
    });
    y.ticks.forEach(t => {
      const py = Math.round(y.getPixelForValue(t.value)) + 0.5;
      ctx.moveTo(a.left, py); ctx.lineTo(a.left + 7, py);
      ctx.moveTo(a.right, py); ctx.lineTo(a.right - 7, py);
    });
    ctx.stroke();
    ctx.restore();
  }
};

function pts(values, offset) {
  return values.map((v, i) => ({ x: i + offset, y: v }));
}
// daily low at the start of the day, daily peak later on
function simPts(low, high) {
  return low.flatMap((v, i) => [{ x: i + 0.25, y: v }, { x: i + 0.75, y: high[i] }]);
}

function makePanel(id, p) {
  new Chart(document.getElementById(id), {
    type: 'scatter',
    data: {
      datasets: [
        { type: 'line', data: simPts(p.simLow, p.simHigh), borderColor: 'rgba(255,0,0,0.8)', borderWidth: 1, pointRadius: 0, tension: 0 },
        { data: pts(p.obsHigh, 0.8), backgroundColor: '#000', borderWidth: 0, pointRadius: p.dot },
        { data: pts(p.obsMid, 0.5), backgroundColor: '#000', borderWidth: 0, pointRadius: p.dot },
        { data: pts(p.obsLow, 0.2), backgroundColor: '#000', borderWidth: 0, pointRadius: p.dot },
        { type: 'line', data: p.bgDays.map((d, i) => ({ x: d, y: p.bg[i] })), borderColor: '#a8a8a8', borderWidth: 2, pointRadius: 0, tension: 0 }
      ]
    },
    options: {
      responsive: false,
      animation: false,
      events: [],
      layout: { padding: p.pad },
      plugins: { legend: { display: false }, tooltip: { enabled: false } },
      scales: {
        x: {
          type: 'linear', min: 0, max: 365,
          grid: { display: false }, border: { display: false },
          afterBuildTicks: s => { s.ticks = monthStarts.map(v => ({ value: v })); },
          afterFit: s => { s.height = p.xh; },
          ticks: {
            autoSkip: false, maxRotation: 0, padding: 2, color: '#3c3c3c', font: { size: 18 },
            callback: v => monthLabels[monthStarts.indexOf(v)]
          }
        },
        y: {
          min: p.ticks[0], max: p.ticks[p.ticks.length - 1],
          grid: { display: false }, border: { display: false },
          afterBuildTicks: s => { s.ticks = p.ticks.map(v => ({ value: v })); },
          afterFit: s => { s.width = p.yw; },
          ticks: { padding: 7, color: '#3c3c3c', font: { size: 18 }, callback: v => String(v) }
        }
      }
    },
    plugins: [boxTicks]
  });
}

makePanel('chartHangzhou', { simLow: hzSimLow, simHigh: hzSimHigh, obsLow: hzObsLow, obsMid: hzObsMid, obsHigh: hzObsHigh,
  bgDays: hzBgDays, bg: hzBg, ticks: hzTicks, dot: 1.9, pad: { top: 15, right: 1, left: 0, bottom: 0 }, xh: 42, yw: 86 });
makePanel('chartLinan', { simLow: laSimLow, simHigh: laSimHigh, obsLow: laObsLow, obsMid: laObsMid, obsHigh: laObsHigh,
  bgDays: laBgDays, bg: laBg, ticks: smallTicks, dot: 2.9, pad: { top: 37, right: 9, left: 0, bottom: 0 }, xh: 42, yw: 86 });
makePanel('chartDamingshan', { simLow: dmSimLow, simHigh: dmSimHigh, obsLow: dmObsLow, obsMid: dmObsMid, obsHigh: dmObsHigh,
  bgDays: dmBgDays, bg: dmBg, ticks: smallTicks, dot: 2.9, pad: { top: 33, right: 5, left: 0, bottom: 0 }, xh: 34, yw: 90 });

// legends drawn as boxes inside the plots
function buildLegend(id, rows) {
  const box = document.getElementById(id);
  rows.forEach(r => {
    const row = document.createElement('div');
    row.className = 'row';
    row.style.top = r.y + 'px';
    if (r.kind === 'dot') {
      row.innerHTML = `<span class="dot" style="left:${r.dx}px"></span>`;
    } else {
      const c = r.kind === 'red' ? '#ff2020' : '#a0a0a0';
      const w = r.kind === 'red' ? 1 : 2;
      row.innerHTML = `<span class="ln" style="left:${r.lx}px;width:32px;border-top:${w}px solid ${c};top:-${w / 2}px"></span>`;
    }
    row.innerHTML += `<span class="txt" style="left:${r.tx}px">${r.label}</span>`;
    box.appendChild(row);
  });
}
const simLabel = 'Simulation (<i>a priori</i>)';
buildLegend('legHangzhou', [
  { kind: 'dot', dx: 30, tx: 48, y: 14, label: 'Observation' },
  { kind: 'red', lx: 12, tx: 48, y: 39, label: simLabel },
  { kind: 'gray', lx: 12, tx: 48, y: 64, label: 'Background' }
]);
buildLegend('legLinan', [
  { kind: 'gray', lx: 11, tx: 48, y: 11, label: 'Background' },
  { kind: 'dot', dx: 28, tx: 48, y: 29, label: 'Observation' },
  { kind: 'red', lx: 11, tx: 48, y: 48, label: simLabel }
]);
buildLegend('legDamingshan', [
  { kind: 'gray', lx: 12, tx: 47, y: 11, label: 'Background' },
  { kind: 'dot', dx: 29, tx: 47, y: 30, label: 'Observation' },
  { kind: 'red', lx: 12, tx: 47, y: 48, label: simLabel }
]);
</script>
</body>
</html>
